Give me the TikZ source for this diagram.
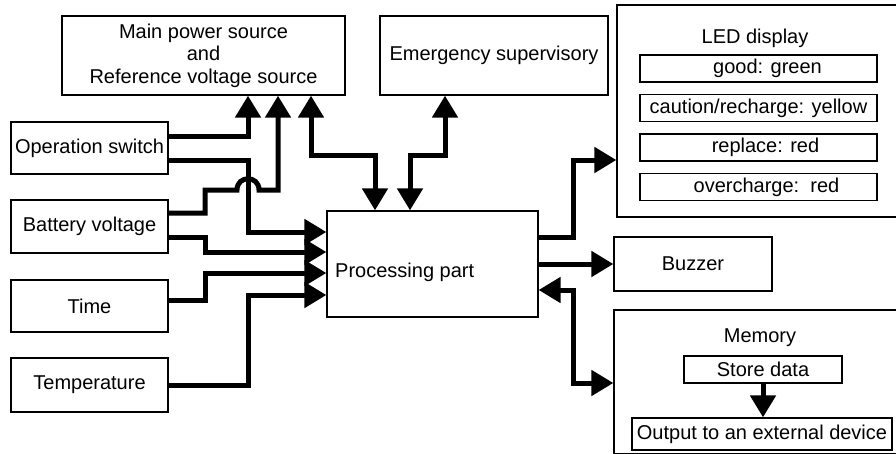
\documentclass[tikz,border=0pt]{standalone}
\usepackage{fontspec}
\setmainfont{Liberation Sans}
\usepackage{tikz}
\usetikzlibrary{arrows.meta}
\usetikzlibrary{calc}

\begin{document}
\begin{tikzpicture}[x=1pt, y=-1pt,
    box/.style={draw, line width=1.3pt, inner sep=0pt, font=\fontsize{20}{22.5}\selectfont},
    txt/.style={inner sep=0pt, font=\fontsize{20}{22.5}\selectfont},
    wire/.style={line width=5pt, -{Triangle[length=22pt,width=25pt]}},
    both/.style={line width=5pt, {Triangle[length=22pt,width=25pt]}-{Triangle[length=22pt,width=25pt]}}]
        \clip (0,0) rectangle (896,453);
        % boxes
        \node (power) at (203.5,55.5) [box, minimum width=283pt, minimum height=79pt, align=center] {Main power source\\and\\Reference voltage source};
        \node (emerg) at (494,55.5) [box, minimum width=228pt, minimum height=79pt] {Emergency supervisory};
        \node (led) at (757,111) [box, minimum width=280pt, minimum height=212pt] {};
        \node (ledtitle) at (755,38) [txt] {LED display};
        \node (good) at (758.5,68.5) [box, minimum width=237pt, minimum height=27pt] {\hspace{18pt}good: green};
        \node (caution) at (758.5,108) [box, minimum width=237pt, minimum height=27pt] {caution/recharge: yellow};
        \node (replace) at (758.5,147.5) [box, minimum width=237pt, minimum height=27pt] {\hspace{14pt}replace: red};
        \node (over) at (758.5,187) [box, minimum width=237pt, minimum height=27pt] {\hspace{16pt}overcharge:\ \ red};
        \node (opsw) at (89.5,148) [box, minimum width=157pt, minimum height=52pt] {Operation switch};
        \node (batt) at (89.5,226.5) [box, minimum width=157pt, minimum height=53pt] {Battery voltage};
        \node (time) at (89.5,306) [box, minimum width=157pt, minimum height=52pt] {Time};
        \node (temp) at (89.5,385) [box, minimum width=157pt, minimum height=54pt] {Temperature};
        \node (proc) at (432.5,264) [box, minimum width=211pt, minimum height=106pt] {};
        \node (proctext) at (335,272) [txt, anchor=west] {Processing part};
        \node (buzzer) at (693,264) [box, minimum width=158pt, minimum height=54pt] {Buzzer};
        \node (memory) at (756,382) [box, minimum width=284pt, minimum height=144pt] {};
        \node (memtitle) at (760,338) [txt] {Memory};
        \node (store) at (763,369.5) [box, minimum width=158pt, minimum height=27pt] {Store data\hspace{14pt}};
        \node (output) at (762,434) [box, minimum width=260pt, minimum height=32pt] {Output to an external device};
        % inputs
        \draw (opsw.east |- 0,136) [wire] -| (power.south -| 248,0);
        \draw (opsw.east |- 0,160) [wire] -| (248,232) -- (proc.west |- 0,232);
        \draw (batt.east |- 0,213) [wire] -| (205,190) -- (237,190) .. controls (237,175) and (259,175) .. (259,190) -| (power.south -| 278,0);
        \draw (batt.east |- 0,237) [wire] -| (205,252) -- (proc.west |- 0,252);
        \draw (time.east |- 0,300) [wire] -| (205,273) -- (proc.west |- 0,273);
        \draw (temp.east) [wire] -| (248,295) -- (proc.west |- 0,295);
        \draw (power.south -| 311,0) [both] |- (375,155) -- (proc.north -| 375,0);
        \draw (emerg.south -| 445,0) [both] |- (410,155) -- (proc.north -| 410,0);
        % outputs
        \draw (proc.east |- 0,237) [wire] -| (573,160) -- (led.west |- 0,160);
        \draw (proc.east |- buzzer.west) [wire] -- (buzzer.west);
        \draw (proc.east |- 0,290) [both] -| (573,383) -- (memory.west |- 0,383);
        \draw (store.south) [wire] -- (output.north -| store.south);
    \end{tikzpicture}
\end{document}
